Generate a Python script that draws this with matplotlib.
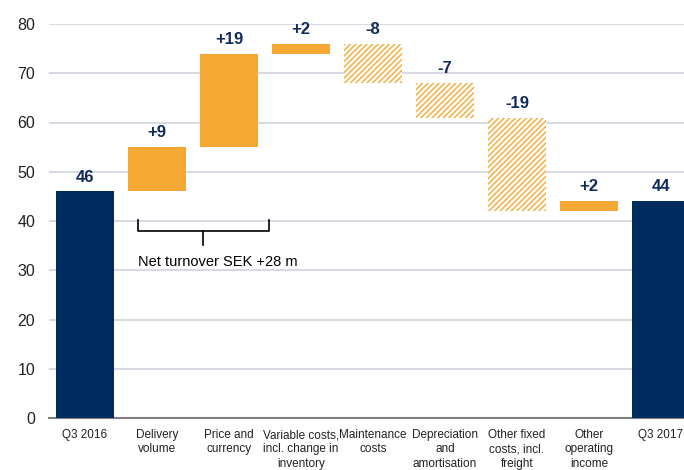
import matplotlib
matplotlib.use("Agg")
import matplotlib.pyplot as plt
import numpy as np

# Data
categories = ["Q3 2016", "Delivery\nvolume", "Price and\ncurrency",
              "Variable costs,\nincl. change in\ninventory", "Maintenance\ncosts",
              "Depreciation\nand\namortisation", "Other fixed\ncosts, incl.\nfreight",
              "Other\noperating\nincome", "Q3 2017"]
start_value = 46
deltas = [9, 19, 2, -8, -7, -19, 2]
end_value = 44
hatched = [False, False, False, True, True, True, False]
bracket_note = "Net turnover SEK +28 m"

NAVY = "#002B5F"
ORANGE = "#F5A833"
LABEL = "#0F2B5B"
GRID = "#D3D7E2"

plt.rcParams['font.family'] = ['Liberation Sans', 'DejaVu Sans']
plt.rcParams['hatch.linewidth'] = 1.0
plt.rcParams['hatch.color'] = ORANGE

fig = plt.figure(figsize=(6.84, 4.70), dpi=100)
ax = fig.add_axes([49 / 684, 52 / 470, 1 - 49 / 684, (418 - 24) / 470])

x = np.arange(len(categories))
width = 0.8

# totals
ax.bar([x[0], x[-1]], [start_value, end_value], width=width, color=NAVY, zorder=3)

# steps
level = start_value
tops = [start_value]
for i, d in enumerate(deltas):
    bottom = level if d > 0 else level + d
    if hatched[i]:
        ax.bar(x[i + 1], abs(d), bottom=bottom, width=width, facecolor="white",
               edgecolor=ORANGE, hatch="//////", linewidth=0, zorder=3)
    else:
        ax.bar(x[i + 1], abs(d), bottom=bottom, width=width, color=ORANGE, zorder=3)
    level += d
    tops.append(max(level, level - d))
tops.append(end_value)

labels = [str(start_value)] + [f"{d:+d}" for d in deltas] + [str(end_value)]
for xi, top, lab in zip(x, tops, labels):
    ax.annotate(lab, (xi, top), xytext=(0, 5), textcoords="offset points",
                ha="center", va="bottom", fontsize=12, fontweight="bold", color=LABEL)

# bracket under delivery volume + price
bx0, bx1, bmid = 0.73, 2.56, 1.64
ax.plot([bx0, bx0, bx1, bx1], [40.3, 38.0, 38.0, 40.3], color="black", lw=1.2,
        zorder=4, solid_joinstyle="round")
ax.plot([bmid, bmid], [38.0, 35.2], color="black", lw=1.2, zorder=4)
ax.text(bx0, 31.7, bracket_note, ha="left", va="center", fontsize=10.5, color="black")

ax.set_xlim(-0.5, 8.32)
ax.set_ylim(0, 80)
ax.set_yticks(np.arange(0, 81, 10))
ax.set_xticks(x)
ax.set_xticklabels(categories, fontsize=8.5, color="#222222", linespacing=1.25)
ax.tick_params(axis="both", length=0)
ax.tick_params(axis="y", labelsize=11.5, pad=10, labelcolor="#222222")
ax.tick_params(axis="x", pad=8)

ax.grid(axis="y", color=GRID, lw=1.3, zorder=0)
ax.set_axisbelow(True)
for s in ["left", "right", "top"]:
    ax.spines[s].set_visible(False)
ax.spines["bottom"].set_color("#808080")
ax.spines["bottom"].set_linewidth(1.5)

fig.savefig("out.png", dpi=100)
